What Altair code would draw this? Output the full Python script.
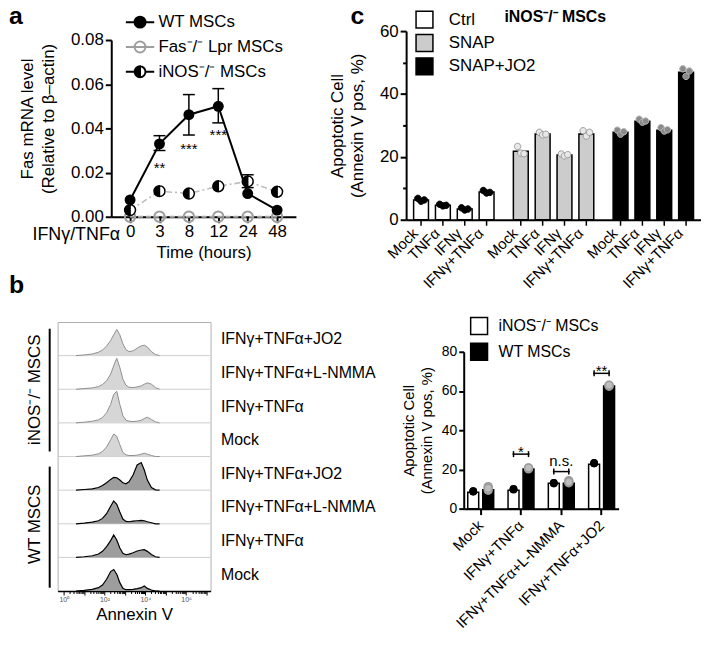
import math
import altair as alt
import pandas as pd

FONT = "Liberation Sans"

# ================= Panel a : Fas mRNA time course =================
times = ["0", "3", "8", "12", "24", "48"]
series_a = ["WT MSCs", "Fas⁻/⁻ Lpr MSCs", "iNOS⁻/⁻ MSCs"]
wt_mean = [0.0076, 0.0330, 0.0462, 0.0500, 0.0105, 0.0030]
fas_mean = [0.0, 0.0, 0.0, 0.0, 0.0, 0.0]
inos_mean = [0.0030, 0.0116, 0.0105, 0.0138, 0.0160, 0.0113]
err_series = ["WT MSCs", "WT MSCs", "WT MSCs", "iNOS⁻/⁻ MSCs"]
err_time = ["3", "8", "12", "24"]
err_lo = [0.0300, 0.0370, 0.0425, 0.0132]
err_hi = [0.0367, 0.0553, 0.0580, 0.0190]
sig_a_time = ["3", "8", "12"]
sig_a_value = [0.0240, 0.0325, 0.0390]
sig_a_text = ["**", "***", "***"]
a_ticks = [0, 0.02, 0.04, 0.06, 0.08]

# ================= Panel c : iNOS-/- MSCs + SNAP =================
groups_c = ["Ctrl", "SNAP", "SNAP+JO2"]
stims_c = ["Mock", "TNFα", "IFNγ", "IFNγ+TNFα"]
ctrl_mean = [6.3, 4.6, 3.4, 8.8]
snap_mean = [21.8, 27.3, 20.6, 27.3]
jo2_mean = [27.8, 31.3, 28.5, 46.9]
ctrl_reps = [[6.8, 5.9, 6.3], [4.9, 4.4, 4.6], [3.8, 3.1, 3.4], [9.3, 8.5, 8.7]]
snap_reps = [[23.3, 21.2, 21.0], [27.8, 27.0, 27.2], [20.9, 20.3, 20.7], [28.3, 26.6, 27.8]]
jo2_reps = [[28.5, 27.2, 28.0], [32.0, 31.0, 31.4], [29.3, 28.2, 28.6], [48.0, 45.6, 47.3]]
rep_names = ["r1", "r2", "r3"]
c_ticks = [0, 10, 20, 30, 40, 50, 60]

# ================= Panel b : Annexin V histograms =================
hist_x = [0.6, 1.0, 1.4, 1.7, 1.9, 2.1, 2.3, 2.45, 2.6, 2.75, 2.9, 3.05, 3.2,
          3.4, 3.6, 3.8, 3.95, 4.1, 4.3, 4.5, 4.7]
row_labels_b = ["IFNγ+TNFα+JO2", "IFNγ+TNFα+L-NMMA", "IFNγ+TNFα", "Mock",
                "IFNγ+TNFα+JO2", "IFNγ+TNFα+L-NMMA", "IFNγ+TNFα", "Mock"]
row_groups_b = ["iNOS", "iNOS", "iNOS", "iNOS", "WT", "WT", "WT", "WT"]
group_names_b = ["iNOS⁻/⁻ MSCS", "WT MSCS"]
hist_rows = [
    [0.0, 0.02, 0.05, 0.10, 0.17, 0.28, 0.45, 0.62, 0.78, 0.62, 0.35, 0.18, 0.12, 0.14, 0.22, 0.29, 0.31, 0.26, 0.12, 0.03, 0.0],
    [0.0, 0.02, 0.04, 0.08, 0.14, 0.25, 0.45, 0.70, 0.92, 0.65, 0.30, 0.12, 0.06, 0.05, 0.07, 0.10, 0.15, 0.19, 0.15, 0.05, 0.0],
    [0.0, 0.02, 0.05, 0.09, 0.16, 0.30, 0.55, 0.85, 0.94, 0.55, 0.22, 0.08, 0.05, 0.04, 0.05, 0.08, 0.13, 0.17, 0.10, 0.03, 0.0],
    [0.0, 0.02, 0.04, 0.08, 0.15, 0.28, 0.50, 0.67, 0.60, 0.35, 0.12, 0.05, 0.03, 0.03, 0.04, 0.07, 0.10, 0.07, 0.03, 0.0, 0.0],
    [0.0, 0.02, 0.04, 0.08, 0.14, 0.22, 0.32, 0.38, 0.37, 0.30, 0.22, 0.19, 0.25, 0.45, 0.75, 0.82, 0.60, 0.30, 0.08, 0.01, 0.0],
    [0.0, 0.02, 0.05, 0.09, 0.16, 0.30, 0.52, 0.68, 0.58, 0.35, 0.14, 0.07, 0.06, 0.08, 0.09, 0.10, 0.09, 0.06, 0.03, 0.0, 0.0],
    [0.0, 0.02, 0.05, 0.10, 0.18, 0.32, 0.50, 0.67, 0.52, 0.28, 0.12, 0.08, 0.10, 0.14, 0.19, 0.22, 0.23, 0.18, 0.09, 0.02, 0.0],
    [0.0, 0.02, 0.05, 0.10, 0.18, 0.35, 0.58, 0.64, 0.50, 0.25, 0.08, 0.04, 0.04, 0.05, 0.07, 0.10, 0.15, 0.08, 0.03, 0.0, 0.0],
]
decade_vals = [0, 2, 4, 6]
decade_text = ["10⁰", "10²", "10⁴", "10⁶"]

# ================= Panel d : iNOS-/- vs WT =================
conds_d = ["Mock", "IFNγ+TNFα", "IFNγ+TNFα+L-NMMA", "IFNγ+TNFα+JO2"]
lines_d = ["iNOS⁻/⁻ MSCs", "WT MSCs"]
inos_d_mean = [8.4, 9.4, 13.0, 22.7]
wt_d_mean = [9.6, 20.2, 13.0, 62.6]
inos_d_reps = [[8.9, 8.6, 9.0], [10.0, 9.7, 10.1], [13.1, 12.8, 13.2], [23.4, 23.0, 23.2]]
wt_d_reps = [[9.4, 11.2, 10.4], [20.6, 20.3, 20.8], [13.2, 14.3, 13.6], [62.8, 62.4, 62.9]]
sig_d_cond = ["IFNγ+TNFα", "IFNγ+TNFα+L-NMMA", "IFNγ+TNFα+JO2"]
sig_d_value = [27.8, 18.9, 69.0]
sig_d_text = ["*", "n.s.", "**"]
d_ticks = [0, 20, 40, 60, 80]

# ---------------- symbol paths ----------------
HALF = "M0,-1 A1,1 0 0,0 0,1 Z M0,-1 A1,1 0 0,1 0,1 A1,1 0 0,0 0,-1"
CIRC_LEG = "M-2.6,0 L2.6,0 M-1,0 A1,1 0 1,1 1,0 A1,1 0 1,1 -1,0 Z"
HALF_LEG = HALF + " M-2.6,0 L-1,0 M1,0 L2.6,0"
DOT_PATHS = ["M-2,0 A1,1 0 1,1 0,0 A1,1 0 1,1 -2,0 Z",
             "M-1,0 A1,1 0 1,1 1,0 A1,1 0 1,1 -1,0 Z",
             "M0,0 A1,1 0 1,1 2,0 A1,1 0 1,1 0,0 Z"]


def letter(t, x, y):
    return alt.Chart(pd.DataFrame({"txt": [t]})).mark_text(
        fontSize=25, fontWeight="bold", align="left", baseline="alphabetic"
    ).encode(x=alt.value(x), y=alt.value(y), text="txt:N")


# ================= build panel a =================
df_a = pd.DataFrame({
    "series": [s for s in series_a for _ in times],
    "time": times * 3,
    "value": wt_mean + fas_mean + inos_mean,
})
df_err = pd.DataFrame({"series": err_series, "time": err_time, "lo": err_lo, "hi": err_hi})
df_sig_a = pd.DataFrame({"time": sig_a_time, "value": sig_a_value, "txt": sig_a_text})
df_leg_a = pd.DataFrame({"series": series_a, "time": ["0"] * 3, "value": [-1.0] * 3})
df_lab_a = pd.DataFrame({"time": ["0"], "value": [0.0], "txt": ["IFNγ/TNFα"]})

a_x_scale = alt.Scale(type="point", domain=times, range=[54, 240], padding=0.64)
a_y_scale = alt.Scale(domain=[0, 0.08], range=[187, 9], nice=False, zero=False)
a_x_axis = alt.Axis(title="Time (hours)", labelAngle=0, labelFontSize=17, titleFontSize=17,
                    tickSize=6, tickWidth=2, domainWidth=2, labelPadding=1, titlePadding=5)
a_y_axis = alt.Axis(values=a_ticks, format=".2f", offset=-54,
                    title=["Fas mRNA level", "(Relative to β–actin)"], titleFontSize=17,
                    titleLineHeight=21, titlePadding=13, titleY=88, labelFontSize=17, tickSize=6,
                    tickWidth=2, domainWidth=2, labelPadding=2)


def ax():
    return alt.X("time:O", sort=times, scale=a_x_scale, axis=a_x_axis)


def ay(f):
    return alt.Y(f"{f}:Q", scale=a_y_scale, axis=a_y_axis)


def sel(s):
    return alt.datum.series == s


legend_a = alt.Legend(title=None, orient="none", legendX=74.5, legendY=-17.5, labelFontSize=17,
                      symbolSize=121, symbolStrokeWidth=2, rowPadding=6, labelOffset=10, padding=0)

a_layers = [
    alt.Chart(df_a).transform_filter(sel(series_a[0])).mark_line(color="black", strokeWidth=2)
    .encode(x=ax(), y=ay("value")),
    alt.Chart(df_a).transform_filter(sel(series_a[2])).mark_line(color="#bdbdbd", strokeWidth=1.6, strokeDash=[6, 3, 2, 3])
    .encode(x=ax(), y=ay("value")),
    alt.Chart(df_a).transform_filter(sel(series_a[1])).mark_line(color="#a8a8a8", strokeWidth=2, strokeDash=[5, 3])
    .encode(x=ax(), y=ay("value")),
    alt.Chart(df_err).mark_rule(color="black", strokeWidth=1.5).encode(x=ax(), y=ay("lo"), y2="hi:Q"),
    alt.Chart(df_err).mark_tick(color="black", size=12, thickness=1.5, opacity=1).encode(x=ax(), y=ay("lo")),
    alt.Chart(df_err).mark_tick(color="black", size=12, thickness=1.5, opacity=1).encode(x=ax(), y=ay("hi")),
    alt.Chart(df_a).transform_filter(sel(series_a[1])).mark_point(shape="circle", filled=False, color="#9e9e9e", strokeWidth=2, size=110, opacity=1)
    .encode(x=ax(), y=ay("value")),
    alt.Chart(df_a).transform_filter(sel(series_a[0])).mark_point(shape="circle", filled=True, color="black", size=121, opacity=1)
    .encode(x=ax(), y=ay("value")),
    alt.Chart(df_a).transform_filter(sel(series_a[2])).mark_point(shape="circle", filled=True, color="white", size=121, opacity=1)
    .encode(x=ax(), y=ay("value")),
    alt.Chart(df_a).transform_filter(sel(series_a[2])).mark_point(shape=HALF, filled=True, fill="black", stroke="black", strokeWidth=1.5, size=121, opacity=1)
    .encode(x=ax(), y=ay("value")),
    alt.Chart(df_sig_a).mark_text(fontSize=15, baseline="alphabetic", dy=9).encode(x=ax(), y=ay("value"), text="txt:N"),
    alt.Chart(df_lab_a).mark_text(fontSize=18, align="right", baseline="middle", dx=-10, dy=18)
    .encode(x=ax(), y=ay("value"), text="txt:N"),
    alt.Chart(df_leg_a).mark_point(clip=True, size=121, strokeWidth=2, opacity=1).encode(
        x=ax(), y=ay("value"),
        shape=alt.Shape("series:N", scale=alt.Scale(domain=series_a, range=[CIRC_LEG, CIRC_LEG, HALF_LEG]), legend=legend_a),
        fill=alt.Fill("series:N", scale=alt.Scale(domain=series_a, range=["black", "transparent", "black"]), legend=legend_a),
        stroke=alt.Stroke("series:N", scale=alt.Scale(domain=series_a, range=["black", "#9e9e9e", "black"]), legend=legend_a),
    ),
    letter("a", -49, -7),
]
panel_a = alt.layer(*a_layers).properties(width=240, height=187)

# ================= build panel c =================
bar_rows, dot_rows = [], []
for g, means, reps in zip(groups_c, [ctrl_mean, snap_mean, jo2_mean], [ctrl_reps, snap_reps, jo2_reps]):
    for s, m, rr in zip(stims_c, means, reps):
        bar_rows.append({"group": g, "stim": s, "value": m, "zero": 0.0, "tend": -1.9})
        for rn, v in zip(rep_names, rr):
            dot_rows.append({"group": g, "stim": s, "rep": rn, "value": v})
df_c_bar = pd.DataFrame(bar_rows)
df_c_dot = pd.DataFrame(dot_rows)

c_x = alt.X("group:N", sort=groups_c, scale=alt.Scale(domain=groups_c, paddingInner=0.124, paddingOuter=0.04),
            axis=alt.Axis(title=None, labels=False, ticks=False, domainWidth=2))
c_xo = alt.XOffset("stim:N", sort=stims_c, scale=alt.Scale(domain=stims_c, paddingInner=0.32, paddingOuter=0.16))
c_y_scale = alt.Scale(domain=[0, 60], nice=False)
c_y_axis = alt.Axis(values=c_ticks, labelExpr="datum.value % 20 == 0 ? datum.label : ''",
                    tickSize={"condition": {"test": "datum.value % 20 != 0", "value": 3.5}, "value": 6},
                    tickWidth=2, domainWidth=2, labelFontSize=17, labelPadding=2,
                    title=["Apoptotic Cell", "(Annexin V pos, %)"], titleFontSize=17,
                    titleLineHeight=20, titlePadding=13)


def cy(f):
    return alt.Y(f"{f}:Q", scale=c_y_scale, axis=c_y_axis)


legend_c = alt.Legend(title=None, orient="none", legendX=9, legendY=-21, symbolType="square",
                      symbolSize=289, symbolStrokeColor="black", symbolStrokeWidth=1.5,
                      labelFontSize=17, rowPadding=0.5, labelOffset=15, padding=0)

dot_styles_c = {"Ctrl": ("black", "black"), "SNAP": ("#e8e8e8", "#9a9a9a"), "SNAP+JO2": ("#8a8a8a", "#b5b5b5")}

c_layers = [
    alt.Chart(df_c_bar).mark_bar(stroke="black", strokeWidth=1.5).encode(
        x=c_x, xOffset=c_xo, y=cy("value"),
        fill=alt.Fill("group:N", scale=alt.Scale(domain=groups_c, range=["white", "#cccccc", "black"]), legend=legend_c)),
]
for g in groups_c:
    f, s = dot_styles_c[g]
    c_layers.append(
        alt.Chart(df_c_dot).transform_filter(alt.datum.group == g)
        .mark_point(filled=True, fill=f, stroke=s, strokeWidth=1, size=42, opacity=1)
        .encode(x=c_x, xOffset=c_xo, y=cy("value"),
                shape=alt.Shape("rep:N", scale=alt.Scale(domain=rep_names, range=DOT_PATHS), legend=None)))
c_layers += [
    alt.Chart(df_c_bar).mark_rule(color="black", strokeWidth=1.5).encode(x=c_x, xOffset=c_xo, y=cy("zero"), y2="tend:Q"),
    alt.Chart(df_c_bar).mark_text(angle=315, align="right", baseline="middle", dx=-12, dy=4, fontSize=15)
    .encode(x=c_x, xOffset=c_xo, y=cy("zero"), text="stim:N"),
    alt.Chart(pd.DataFrame({"txt": ["iNOS⁻/⁻ MSCs"]})).mark_text(fontSize=16, fontWeight="bold", align="left", baseline="alphabetic")
    .encode(x=alt.value(99), y=alt.value(-9), text="txt:N"),
    letter("c", -56, -7),
]
panel_c = alt.layer(*c_layers).properties(width=297, height=190)

# ================= build panel b =================
b_rows = []
for i, (lab, grp, hs) in enumerate(zip(row_labels_b, row_groups_b, hist_rows)):
    base = 7 - i
    for xv, h in zip(hist_x, hs):
        b_rows.append({"row": i, "group": grp, "lx": xv, "base": base, "top": base + h})
df_b = pd.DataFrame(b_rows)
df_sep = pd.DataFrame({"sep": list(range(1, 8))})
df_gbar = pd.DataFrame({"gname": group_names_b, "lo": [4.15, 0.1], "hi": [7.8, 3.7], "bx": [-0.69, -0.69]})

b_tick_values = [k + math.log10(m) for k in range(0, 8) for m in range(1, 10) if k + math.log10(m) <= 7.2]
b_label_expr = " : ".join(f"datum.value == {v} ? '{t}'" for v, t in zip(decade_vals, decade_text)) + " : ''"
b_x_scale = alt.Scale(domain=[-0.3, 7.2], nice=False, zero=False)
b_x_axis = alt.Axis(values=b_tick_values, labelExpr=b_label_expr,
                    tickSize={"condition": {"test": "abs(datum.value - round(datum.value)) < 0.001", "value": 4}, "value": 2.5},
                    tickWidth=1, domainWidth=1.5, labelFontSize=7, labelColor="#555555", labelPadding=1,
                    labelFlush=False, labelOverlap=False, title="Annexin V", titleFontSize=17, titlePadding=4)
b_y_scale = alt.Scale(domain=[0, 8], nice=False, zero=False)
right_labels = list(reversed(row_labels_b))
b_right_axis = alt.Axis(orient="right", values=[i + 0.5 for i in range(8)],
                        labelExpr="[" + ",".join(f"'{t}'" for t in right_labels) + "][floor(datum.value)]",
                        ticks=False, domain=False, labelFontSize=16, labelPadding=10, title=None)
b_left_axis = alt.Axis(orient="left", values=[6, 2],
                       labelExpr=f"datum.value > 4 ? '{group_names_b[0]}' : '{group_names_b[1]}'",
                       labelAngle=270, labelAlign="center", labelBaseline="bottom", ticks=False, domain=False,
                       labelFontSize=17, labelPadding=14, title=None)


def bx(f="lx"):
    return alt.X(f"{f}:Q", scale=b_x_scale, axis=b_x_axis)


b_layers = [
    alt.Chart(df_sep).mark_rule(color="#cfcfcf", strokeWidth=1).encode(y=alt.Y("sep:Q", scale=b_y_scale, axis=None)),
    alt.Chart(df_b).transform_filter(alt.datum.group == "iNOS").mark_area(color="#d6d6d6", opacity=1)
    .encode(x=bx(), y=alt.Y("top:Q", scale=b_y_scale, axis=b_right_axis), y2="base:Q", detail="row:N"),
    alt.Chart(df_b).transform_filter(alt.datum.group == "iNOS").mark_line(color="#8f8f8f", strokeWidth=1)
    .encode(x=bx(), y=alt.Y("top:Q", scale=b_y_scale, axis=None), detail="row:N"),
    alt.Chart(df_b).transform_filter(alt.datum.group == "WT").mark_area(color="#9d9d9d", opacity=1)
    .encode(x=bx(), y=alt.Y("top:Q", scale=b_y_scale, axis=None), y2="base:Q", detail="row:N"),
    alt.Chart(df_b).transform_filter(alt.datum.group == "WT").mark_line(color="black", strokeWidth=1.2)
    .encode(x=bx(), y=alt.Y("top:Q", scale=b_y_scale, axis=None), detail="row:N"),
    alt.Chart(df_gbar).mark_rule(color="black", strokeWidth=2)
    .encode(x=bx("bx"), y=alt.Y("lo:Q", scale=b_y_scale, axis=b_left_axis), y2="hi:Q"),
    letter("b", -49, -29),
]
panel_b = alt.layer(*b_layers).resolve_axis(y="independent").properties(
    width=154, height=271, view=alt.ViewBackground(stroke="#b0b0b0", strokeWidth=1))

# ================= build panel d =================
d_bar_rows, d_dot_rows = [], []
for ln, means, reps in zip(lines_d, [inos_d_mean, wt_d_mean], [inos_d_reps, wt_d_reps]):
    for c, m, rr in zip(conds_d, means, reps):
        d_bar_rows.append({"cond": c, "line": ln, "value": m})
        for v in rr:
            d_dot_rows.append({"cond": c, "line": ln, "value": v})
df_d_bar = pd.DataFrame(d_bar_rows)
df_d_dot = pd.DataFrame(d_dot_rows)
df_sig_d = pd.DataFrame({"cond": sig_d_cond, "value": sig_d_value, "txt": sig_d_text})
df_cap_d = pd.DataFrame([{"cond": c, "line": ln, "value": v} for c, v in zip(sig_d_cond, sig_d_value) for ln in lines_d])

d_x = alt.X("cond:N", sort=conds_d,
            scale=alt.Scale(domain=conds_d, range=[58, 214], paddingInner=0.256, paddingOuter=0.05),
            axis=alt.Axis(title=None, labelAngle=315, labelAlign="right", labelBaseline="middle",
                          labelFontSize=15, tickSize=6, tickWidth=2, domainWidth=2, labelPadding=8))
d_xo = alt.XOffset("line:N", sort=lines_d, scale=alt.Scale(domain=lines_d, paddingInner=0.27, paddingOuter=0.135))
d_y_scale = alt.Scale(domain=[0, 80], range=[188, 30], nice=False)
d_y_axis = alt.Axis(values=d_ticks, offset=-58, labelFontSize=14, tickSize=5, tickWidth=2, domainWidth=2,
                    labelPadding=2, title=["Apoptotic Cell", "(Annexin V pos, %)"], titleFontSize=15,
                    titleLineHeight=18, titlePadding=7)


def dy_(f):
    return alt.Y(f"{f}:Q", scale=d_y_scale, axis=d_y_axis)


legend_d = alt.Legend(title=None, orient="none", legendX=64, legendY=-5.5, symbolType="square",
                      symbolSize=289, symbolStrokeColor="black", symbolStrokeWidth=1.5,
                      labelFontSize=16, rowPadding=3, labelOffset=10, padding=0)

d_layers = [
    alt.Chart(df_d_bar).mark_bar(stroke="black", strokeWidth=1.5).encode(
        x=d_x, xOffset=d_xo, y=dy_("value"),
        fill=alt.Fill("line:N", scale=alt.Scale(domain=lines_d, range=["white", "black"]), legend=legend_d)),
    alt.Chart(df_d_dot).transform_filter(alt.datum.line == lines_d[0])
    .mark_point(shape="circle", filled=True, color="black", size=60, opacity=1)
    .encode(x=d_x, xOffset=d_xo, y=dy_("value")),
    alt.Chart(df_d_dot).transform_filter(alt.datum.line == lines_d[1])
    .mark_point(shape="circle", filled=True, fill="#bdbdbd", stroke="#9a9a9a", strokeWidth=1.5, size=64, opacity=1)
    .encode(x=d_x, xOffset=d_xo, y=dy_("value")),
    alt.Chart(df_sig_d).mark_tick(color="black", size=17, thickness=1.5, opacity=1).encode(x=d_x, y=dy_("value")),
    alt.Chart(df_cap_d).mark_tick(orient="vertical", color="black", size=6, thickness=1.5, opacity=1)
    .encode(x=d_x, xOffset=d_xo, y=dy_("value")),
    alt.Chart(df_sig_d).transform_filter(alt.datum.txt != "n.s.").mark_text(fontSize=15, baseline="alphabetic", dy=3)
    .encode(x=d_x, y=dy_("value"), text="txt:N"),
    alt.Chart(df_sig_d).transform_filter(alt.datum.txt == "n.s.").mark_text(fontSize=15, baseline="alphabetic", dy=-6)
    .encode(x=d_x, y=dy_("value"), text="txt:N"),
]
panel_d = alt.layer(*d_layers).properties(width=214, height=188)

# ================= assemble =================
chart = alt.ConcatChart(
    concat=[panel_a, panel_c, panel_b, panel_d], columns=2,
    spacing={"row": 103, "column": 111}, bounds="flush", align="none",
    padding={"top": -6, "left": 0, "right": 0, "bottom": 0},
).resolve_scale(
    x="independent", y="independent", xOffset="independent",
    fill="independent", stroke="independent", shape="independent",
).resolve_legend(fill="independent", stroke="independent", shape="independent").configure(
    font=FONT
).configure_axis(
    grid=False, domainColor="black", tickColor="black", labelColor="black", titleColor="black",
    titleFontWeight="normal", labelFont=FONT, titleFont=FONT
).configure_legend(labelFont=FONT, labelColor="black").configure_view(stroke=None)

chart.save("out.html", embed_options={"renderer": "svg", "actions": False})
